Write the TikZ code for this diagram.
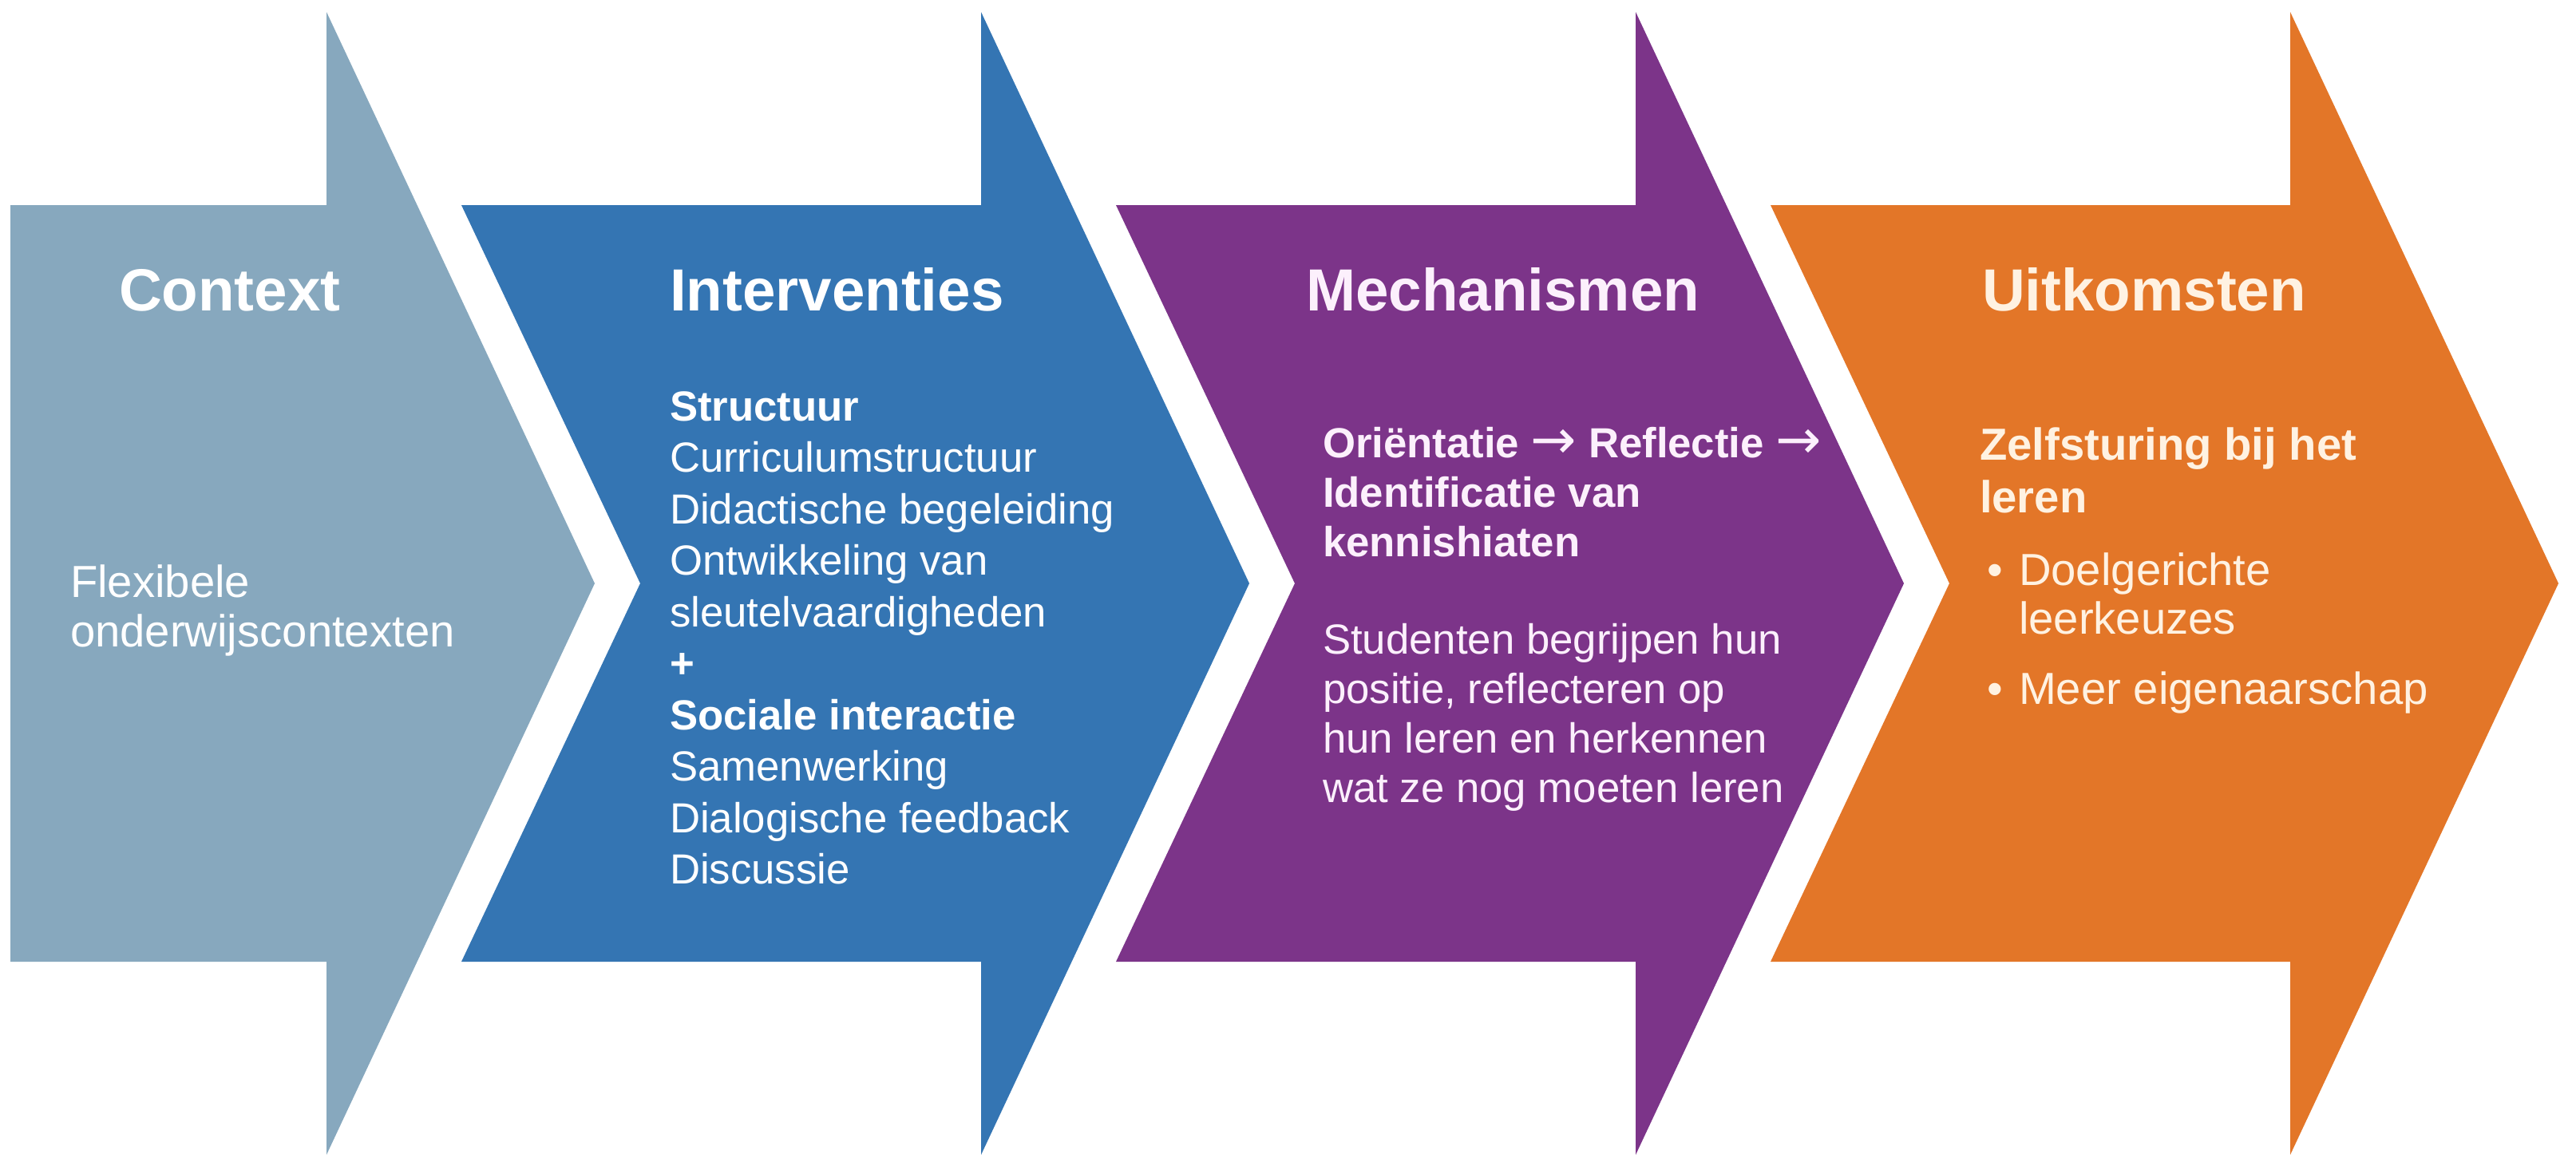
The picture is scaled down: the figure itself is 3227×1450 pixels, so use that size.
\documentclass[tikz,border=0pt]{standalone}
\usepackage{fontspec}
\usepackage{graphicx}
\setmainfont{Liberation Sans}
\newfontfamily\arrowfont{DejaVu Sans}
\definecolor{ctxc}{HTML}{87A8BE}
\definecolor{intc}{HTML}{3475B3}
\definecolor{mecc}{HTML}{7C3489}
\definecolor{uitc}{HTML}{E37628}
\definecolor{mectext}{HTML}{FCF0FC}
\definecolor{uittext}{HTML}{FFF2E2}
\newcommand{\mylines}[1]{\begin{tabular}[t]{@{}l@{}}#1\end{tabular}}
\newcommand{\thinarrow}{\raisebox{-0.02em}{\scalebox{1.3}{\arrowfont\mdseries →}}}
\begin{document}
\begin{tikzpicture}[x=0.01cm,y=-0.01cm,
  txt/.style={anchor=base west, inner sep=0pt, outer sep=0pt, text=white},
  ttl/.style={txt, font=\fontsize{21.2}{25}\selectfont\bfseries},
  bodyA/.style={txt, font=\fontsize{16}{17.9}\selectfont},
  bodyB/.style={txt, font=\fontsize{15}{18.35}\selectfont},
  bodyC/.style={txt, font=\fontsize{15}{17.64}\selectfont},
  bodyD/.style={txt, font=\fontsize{16}{18.8}\selectfont\bfseries},
  bodyE/.style={txt, font=\fontsize{16}{17.6}\selectfont}]
\useasboundingbox (0,0) rectangle (3227,1450);
\fill[white] (0,0) rectangle (3227,1450);
% arrow 1
\fill[ctxc] (13,257) -- (409,257) -- (409,15) -- (745,731) -- (409,1447) -- (409,1205) -- (13,1205) -- cycle;
% arrows 2-4
\foreach \k/\c in {1/intc,2/mecc,3/uitc}{
  \pgfmathsetmacro{\dx}{820*\k}
  \begin{scope}[xshift=\dx*0.01cm]
    \fill[\c] (-242,257) -- (409,257) -- (409,15) -- (745,731) -- (409,1447) -- (409,1205) -- (-242,1205) -- (-18,731) -- cycle;
  \end{scope}
}
% Context
\node[ttl] (ctxT) at (149,389) {Context};
\node[bodyA] (ctxB) at (88,748) {\mylines{Flexibele\\onderwijscontexten}};
% Interventies
\node[ttl] (intT) at (839,389) {Interventies};
\node[bodyB] (intB) at (839,527) {\mylines{\textbf{Structuur}\\Curriculumstructuur\\Didactische begeleiding\\Ontwikkeling van\\sleutelvaardigheden\\\textbf{+}\\\textbf{Sociale interactie}\\Samenwerking\\Dialogische feedback\\Discussie}};
% Mechanismen
\node[ttl, text=mectext] (mecT) at (1636,389) {Mechanismen};
\node[bodyC, text=mectext, font=\fontsize{15}{17.64}\selectfont\bfseries] (mecS) at (1657,573) {\mylines{Oriëntatie \thinarrow{} Reflectie \thinarrow\\Identificatie van\\kennishiaten}};
\node[bodyC, text=mectext] (mecB) at (1657,819) {\mylines{Studenten begrijpen hun\\positie, reflecteren op\\hun leren en herkennen\\wat ze nog moeten leren}};
% Uitkomsten
\node[ttl, text=uittext] (uitT) at (2483,389) {Uitkomsten};
\node[bodyD, text=uittext] (uitS) at (2480,576) {\mylines{Zelfsturing bij het\\leren}};
\node[bodyE, text=uittext] (uitD1) at (2489,733) {•};
\node[bodyE, text=uittext] (uitB1) at (2529,733) {\mylines{Doelgerichte\\leerkeuzes}};
\node[bodyE, text=uittext] (uitD2) at (2489,882) {•};
\node[bodyE, text=uittext] (uitB2) at (2529,882) {Meer eigenaarschap};
\end{tikzpicture}
\end{document}
